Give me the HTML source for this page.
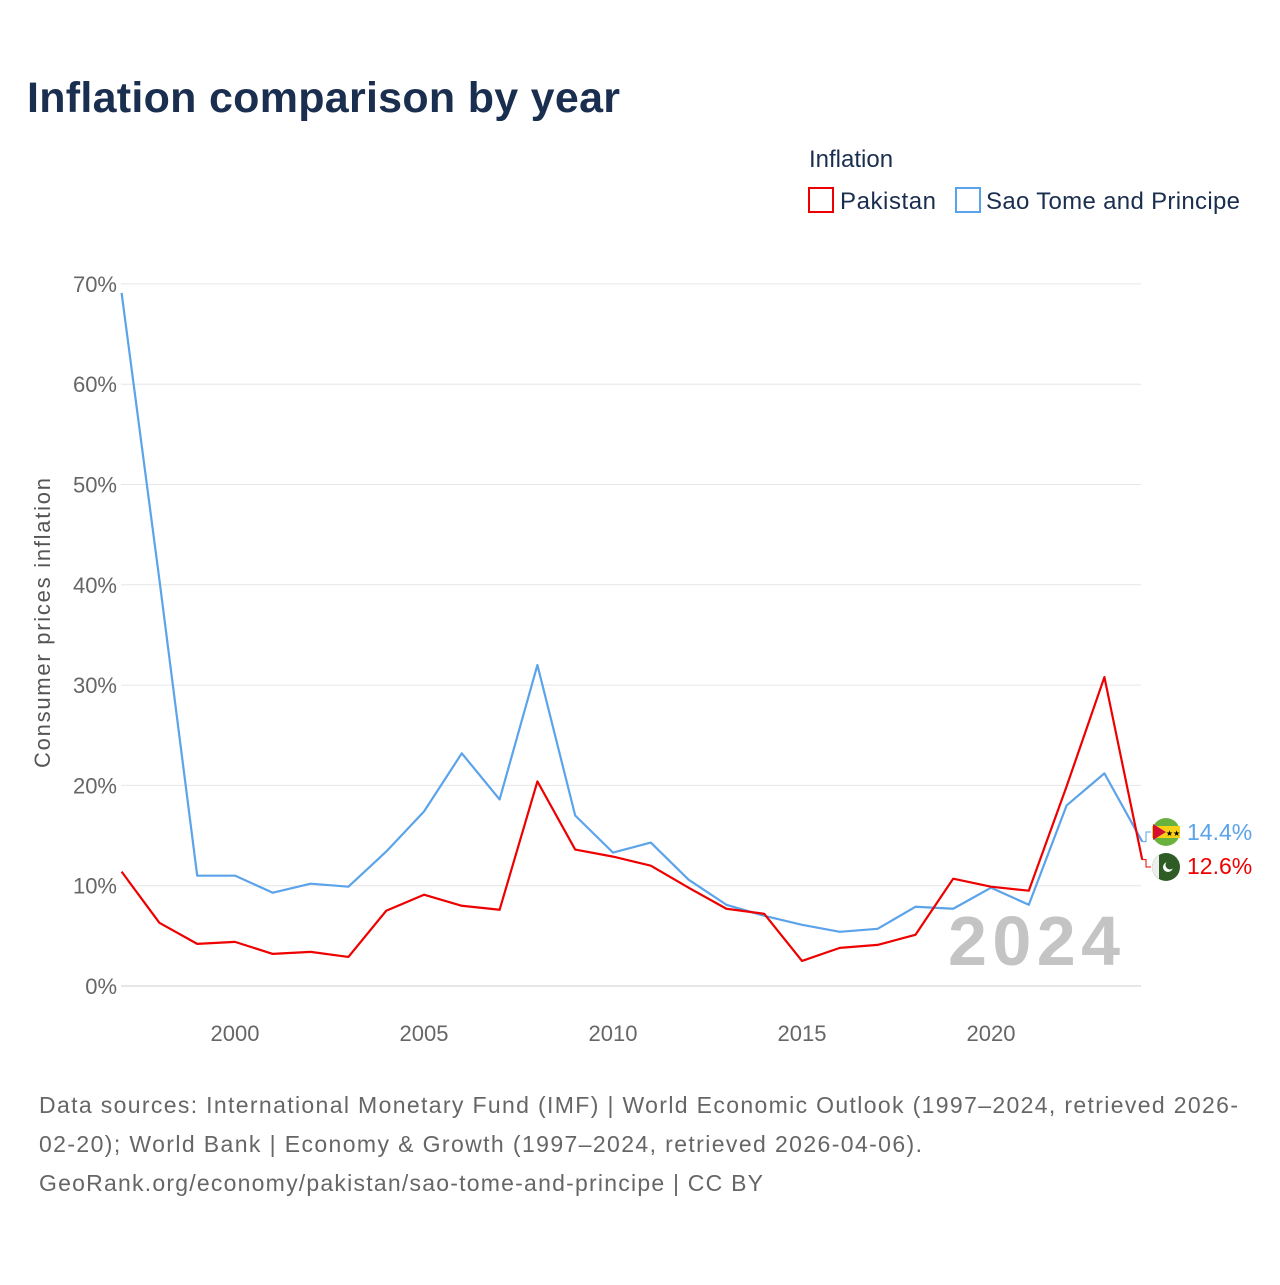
<!DOCTYPE html>
<html><head><meta charset="utf-8"><style>
body{margin:0;background:#fff;font-family:"Liberation Sans",sans-serif;}
</style></head><body>
<svg width="1280" height="1280" xmlns="http://www.w3.org/2000/svg" style="font-family:'Liberation Sans',sans-serif">
<text x="27" y="112" font-size="43" font-weight="bold" fill="#1a2e4f" textLength="593">Inflation comparison by year</text>
<text x="809" y="167" font-size="24" fill="#1a2e4f">Inflation</text>
<g>
<rect x="809" y="188" width="24" height="24" fill="#fff" stroke="#e00" stroke-width="2"/>
<text x="840" y="209" font-size="24" fill="#1a2e4f" textLength="96">Pakistan</text></g>
<g>
<rect x="956" y="188" width="24" height="24" fill="#fff" stroke="#5ba3ea" stroke-width="2"/>
<text x="986" y="209" font-size="24" fill="#1a2e4f" textLength="254">Sao Tome and Principe</text></g>
<g id="grid"></g><g id="ylab"></g><g id="xlab"></g>
<text transform="translate(50,623) rotate(-90)" text-anchor="middle" font-size="22" fill="#555" textLength="290">Consumer prices inflation</text>
<text x="948" y="965" font-size="70" font-weight="bold" fill="#c4c4c4" textLength="172">2024</text>
<g id="lines"></g>
<g>
<circle cx="1166" cy="832" r="14" fill="#6ab23e"/><rect x="1152" y="826" width="28" height="12" fill="#f7d117"/>
<path d="M1153 824 L1166 832 L1153 840 Z" fill="#d21034"/>
<text x="1173" y="836" font-size="8" text-anchor="middle">★★</text></g>
<g>
<circle cx="1166" cy="867" r="14" fill="#2f5b25"/><path d="M1152 867 A14 14 0 0 1 1159 855 L1159 879 A14 14 0 0 1 1152 867Z" fill="#eee"/>
<circle cx="1168" cy="867" r="5" fill="#fff"/><circle cx="1170" cy="865" r="4.5" fill="#2f5b25"/></g>
<text x="1187" y="840" font-size="23" fill="#5ba3ea">14.4%</text>
<text x="1187" y="874" font-size="23" fill="#e00">12.6%</text>
<text font-size="23" fill="#666">
<tspan x="39" y="1113" textLength="1199">Data sources: International Monetary Fund (IMF) | World Economic Outlook (1997–2024, retrieved 2026-</tspan>
<tspan x="39" y="1152" textLength="883">02-20); World Bank | Economy &amp; Growth (1997–2024, retrieved 2026-04-06).</tspan>
<tspan x="39" y="1191" textLength="724">GeoRank.org/economy/pakistan/sao-tome-and-principe | CC BY</tspan></text>
</svg>
<script>
const years=[1997,1998,1999,2000,2001,2002,2003,2004,2005,2006,2007,2008,2009,2010,2011,2012,2013,2014,2015,2016,2017,2018,2019,2020,2021,2022,2023,2024];
const pakistan=[11.4,6.3,4.2,4.4,3.2,3.4,2.9,7.5,9.1,8.0,7.6,20.4,13.6,12.9,12.0,9.8,7.7,7.2,2.5,3.8,4.1,5.1,10.7,9.9,9.5,19.9,30.8,12.6];
const saoTome=[69.1,40.5,11.0,11.0,9.3,10.2,9.9,13.4,17.4,23.2,18.6,32.0,17.0,13.3,14.3,10.6,8.1,7.0,6.1,5.4,5.7,7.9,7.7,9.8,8.1,18.0,21.2,14.4];
const yTicks=[0,10,20,30,40,50,60,70];
const xTicks=[2000,2005,2010,2015,2020];
const NS='http://www.w3.org/2000/svg';
const X=y=>121.6+(y-1997)*37.8, Y=v=>986-v*10.03;
function mk(t,a,p){const e=document.createElementNS(NS,t);for(const k in a)e.setAttribute(k,a[k]);document.getElementById(p).appendChild(e);return e;}
yTicks.forEach(v=>{
 const l=mk('line',{x1:121,x2:1141,y1:Y(v),y2:Y(v),stroke:v?'#e6e6e6':'#ccc','stroke-width':1},'grid');
 
 
 const t=mk('text',{x:117,y:Y(v)+8,'text-anchor':'end','font-size':22,fill:'#666'},'ylab');t.textContent=v+'%';
 
 
});
xTicks.forEach(v=>{
 const t=mk('text',{x:X(v),y:1041,'text-anchor':'middle','font-size':22,fill:'#666'},'xlab');t.textContent=v;
 
 
});
function line(d,c,n){
 const p=mk('polyline',{points:d.map((v,i)=>X(years[i])+','+Y(v)).join(' '),fill:'none',stroke:c,'stroke-width':2.2,'stroke-linejoin':'round'},'lines');
 
 
}
line(saoTome,'#5ba3ea','line-sao-tome');
line(pakistan,'#e00','line-pakistan');
const ls=saoTome[saoTome.length-1], lp=pakistan[pakistan.length-1];
mk('polyline',{points:`${X(2024)},${Y(ls)} 1146,${Y(ls)} 1146,832 1151,832`,fill:'none',stroke:'#5ba3ea','stroke-width':1},'lines');
mk('polyline',{points:`${X(2024)},${Y(lp)} 1146,${Y(lp)} 1146,867 1151,867`,fill:'none',stroke:'#e00','stroke-width':1},'lines');
</script>
</body></html>
